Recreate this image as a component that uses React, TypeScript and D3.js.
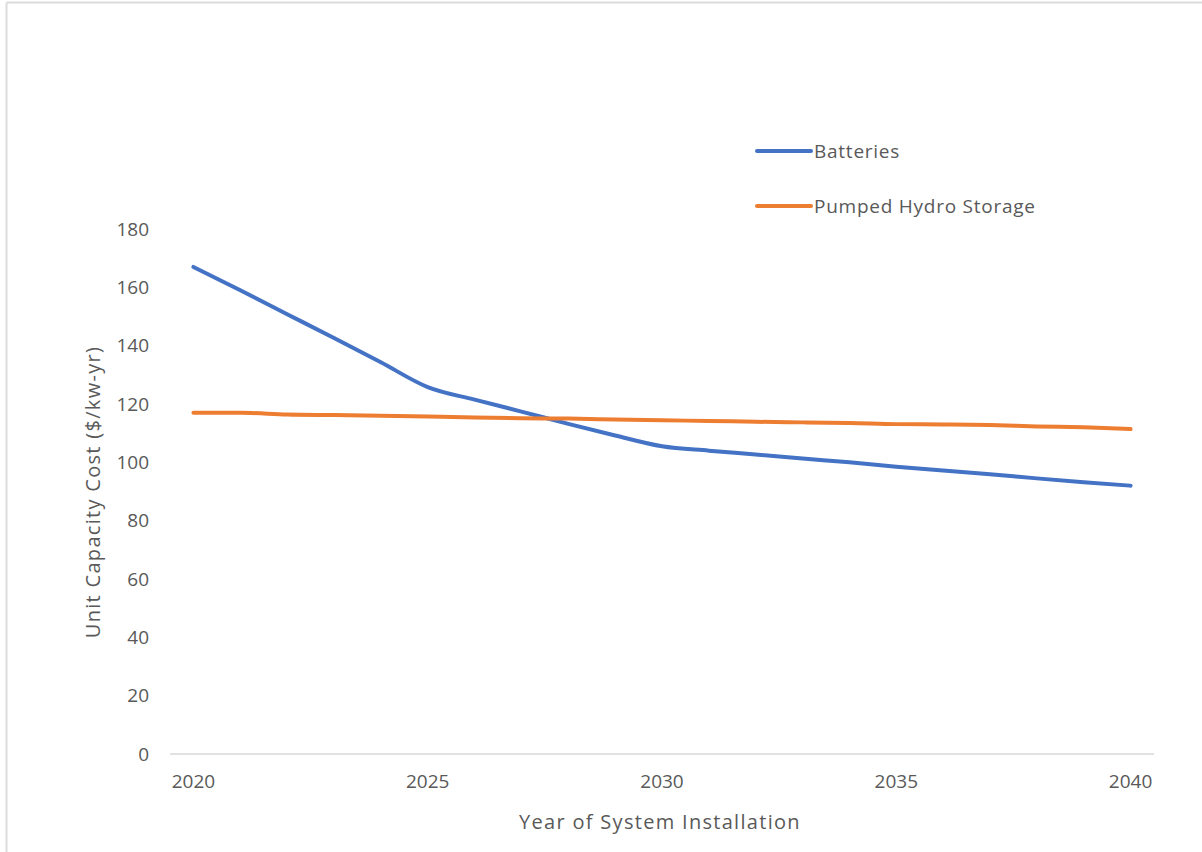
import React from "react";
import * as d3 from "d3";

const years = [2020, 2021, 2022, 2023, 2024, 2025, 2026, 2027, 2028, 2029, 2030, 2031, 2032, 2033, 2034, 2035, 2036, 2037, 2038, 2039, 2040];
const batteries = [167, 159, 150.8, 142.6, 134.3, 125.8, 121.5, 117.4, 113.2, 109.2, 105.5, 104, 102.7, 101.3, 100, 98.5, 97.2, 95.9, 94.5, 93.2, 92];
const pumpedHydro = [117, 117, 116.4, 116.2, 116, 115.7, 115.4, 115.1, 115, 114.7, 114.4, 114.2, 113.9, 113.7, 113.5, 113.1, 113, 112.8, 112.3, 112, 111.4];
const yTicks = [0, 20, 40, 60, 80, 100, 120, 140, 160, 180];
const xTickLabels = [2020, 2025, 2030, 2035, 2040];
const seriesNames = ["Batteries", "Pumped Hydro Storage"];
const seriesColors = ["#4472C4", "#ED7D31"];

export default function App() {
  const W = 1202, H = 852;
  const x = d3.scalePoint<number>().domain(years).range([170, 1154]).padding(0.5);
  const y = d3.scaleLinear().domain([0, 180]).range([754, 229]);
  const line = d3
    .line<number>()
    .x((_, i) => x(years[i]) as number)
    .y((d) => y(d))
    .curve(d3.curveMonotoneX);
  const series = [batteries, pumpedHydro];
  const font = "'Open Sans', sans-serif";
  const textColor = "#595959";
  return (
    <svg width={W} height={H} style={{ position: "absolute", left: 0, top: 0 }}>
      <rect x={0} y={0} width={W} height={H} fill="#fff" />
      <line x1={6.5} y1={2.5} x2={W} y2={2.5} stroke="#dcdcdc" strokeWidth={2} />
      <line x1={6.5} y1={2.5} x2={6.5} y2={H} stroke="#dcdcdc" strokeWidth={2} />
      <line x1={170} x2={1154} y1={y(0)} y2={y(0)} stroke="#d9d9d9" strokeWidth={1.5} />
      {yTicks.map((t) => (
        <text key={t} x={149} y={y(t)} dy="0.35em" textAnchor="end" fontFamily={font} fontSize={19} fill={textColor}>
          {t}
        </text>
      ))}
      {xTickLabels.map((t) => (
        <text key={t} x={x(t) as number} y={781} dy="0.35em" textAnchor="middle" fontFamily={font} fontSize={19} fill={textColor}>
          {t}
        </text>
      ))}
      <text x={660} y={822} dy="0.35em" textAnchor="middle" fontFamily={font} fontSize={20} fill={textColor} letterSpacing={1.3}>
        Year of System Installation
      </text>
      <text
        transform={`translate(93,492) rotate(-90)`}
        dy="0.35em"
        textAnchor="middle"
        fontFamily={font}
        fontSize={20}
        fill={textColor}
        letterSpacing={1.3}
      >
        Unit Capacity Cost ($/kw-yr)
      </text>
      {series.map((s, i) => (
        <path key={i} d={line(s) || ""} fill="none" stroke={seriesColors[i]} strokeWidth={4} strokeLinecap="round" strokeLinejoin="round" />
      ))}
      {seriesNames.map((n, i) => (
        <g key={n} transform={`translate(0,${151 + i * 55})`}>
          <line x1={757} x2={811} y1={0} y2={0} stroke={seriesColors[i]} strokeWidth={4} strokeLinecap="round" />
          <text x={814} y={0} dy="0.35em" fontFamily={font} fontSize={19} fill={textColor} letterSpacing={0.75}>
            {n}
          </text>
        </g>
      ))}
    </svg>
  );
}
